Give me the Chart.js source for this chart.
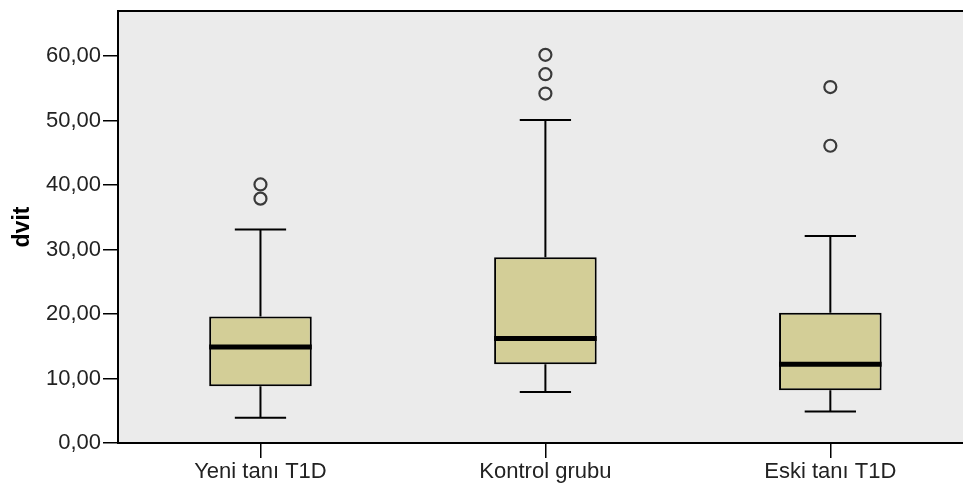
<!DOCTYPE html>
<html>
<head>
<meta charset="utf-8">
<script src="https://cdn.jsdelivr.net/npm/chart.js@4.4.0/dist/chart.umd.min.js"></script>
<style>
html,body{margin:0;padding:0;background:#fff;overflow:hidden;width:963px;height:486px;}
#wrap{width:981px;height:486px;}
</style>
</head>
<body>
<div id="wrap"><canvas id="c" width="981" height="486" style="width:981px;height:486px"></canvas></div>
<script>
const categories = ['Yeni tanı T1D', 'Kontrol grubu', 'Eski tanı T1D'];
const q1 = [8.8, 12.2, 8.2];
const median = [14.9, 16.2, 12.2];
const q3 = [19.6, 28.8, 20.2];
const whiskerLow = [3.9, 7.9, 4.9];
const whiskerHigh = [33.1, 50.1, 32.1];
const outliers = [[37.9, 40.1], [54.2, 57.2, 60.2], [46.1, 55.2]];
const yTicks = [0, 10, 20, 30, 40, 50, 60];
const yMax = 67;

const FONT = "'Liberation Sans', Arial, sans-serif";

const boxData = categories.map((c, i) => [q1[i], q3[i]]);
const outlierData = [];
outliers.forEach((arr, i) => arr.forEach(v => outlierData.push({x: categories[i], y: v})));

const boxPlugin = {
  id: 'boxPlugin',
  beforeDraw(chart) {
    const {ctx, chartArea: a} = chart;
    ctx.save();
    ctx.fillStyle = '#EBEBEB';
    ctx.fillRect(a.left, a.top, a.right - a.left, a.bottom - a.top);
    ctx.strokeStyle = '#000';
    ctx.lineWidth = 2;
    ctx.beginPath();
    ctx.moveTo(a.left, a.top);
    ctx.lineTo(a.right, a.top);
    ctx.stroke();
    ctx.restore();
  },
  afterDatasetsDraw(chart) {
    const {ctx} = chart;
    const y = chart.scales.y;
    const meta = chart.getDatasetMeta(0);
    ctx.save();
    ctx.strokeStyle = '#000';
    meta.data.forEach((bar, i) => {
      const cx = bar.x;
      const half = bar.width / 2;
      const capHalf = half / 2;
      const pQ1 = y.getPixelForValue(q1[i]);
      const pQ3 = y.getPixelForValue(q3[i]);
      const pLo = y.getPixelForValue(whiskerLow[i]);
      const pHi = y.getPixelForValue(whiskerHigh[i]);
      const pMed = y.getPixelForValue(median[i]);
      ctx.lineWidth = 2;
      ctx.beginPath();
      ctx.moveTo(cx, pQ3); ctx.lineTo(cx, pHi);
      ctx.moveTo(cx, pQ1); ctx.lineTo(cx, pLo);
      ctx.moveTo(cx - capHalf, pHi); ctx.lineTo(cx + capHalf, pHi);
      ctx.moveTo(cx - capHalf, pLo); ctx.lineTo(cx + capHalf, pLo);
      ctx.stroke();
      ctx.lineWidth = 5;
      ctx.beginPath();
      ctx.moveTo(cx - half, pMed); ctx.lineTo(cx + half, pMed);
      ctx.stroke();
    });
    ctx.restore();
  }
};

new Chart(document.getElementById('c'), {
  type: 'bar',
  data: {
    labels: categories,
    datasets: [
      {
        type: 'bar',
        data: boxData,
        backgroundColor: '#D3CE97',
        borderColor: '#000',
        borderWidth: 2,
        borderSkipped: false,
        categoryPercentage: 1,
        barPercentage: 0.36,
        order: 2
      },
      {
        type: 'line',
        data: outlierData,
        showLine: false,
        pointStyle: 'circle',
        pointRadius: 6,
        pointBorderWidth: 2.2,
        pointBorderColor: '#3a3a3a',
        pointBackgroundColor: 'rgba(0,0,0,0)',
        order: 1
      }
    ]
  },
  options: {
    responsive: false,
    animation: false,
    events: [],
    layout: {padding: {left: 0, right: 2, top: 11, bottom: 0}},
    plugins: {legend: {display: false}, tooltip: {enabled: false}},
    scales: {
      x: {
        type: 'category',
        offset: true,
        grid: {display: true, drawOnChartArea: false, drawTicks: true, tickLength: 15, color: '#000', lineWidth: 1.5, offset: false},
        border: {display: true, color: '#000', width: 2},
        ticks: {color: '#222', font: {family: FONT, size: 22}, padding: 1, maxRotation: 0},
        afterFit(s) { s.height = 43; s.paddingLeft = 0; s.paddingRight = 0; }
      },
      y: {
        min: 0,
        max: yMax,
        grid: {display: true, drawOnChartArea: false, drawTicks: true, tickLength: 15, color: '#000', lineWidth: 1.5},
        border: {display: true, color: '#000', width: 2},
        afterBuildTicks(s) { s.ticks = yTicks.map(v => ({value: v})); },
        ticks: {
          color: '#222',
          font: {family: FONT, size: 22},
          padding: 2,
          callback: v => v.toFixed(2).replace('.', ',')
        },
        title: {display: true, text: 'dvit', color: '#000', font: {family: FONT, size: 23, weight: 'bold'}, padding: {top: 9, bottom: 0}},
        afterFit(s) { s.width = 118; s.paddingTop = 0; s.paddingBottom = 0; }
      }
    }
  },
  plugins: [boxPlugin]
});
</script>
</body>
</html>
